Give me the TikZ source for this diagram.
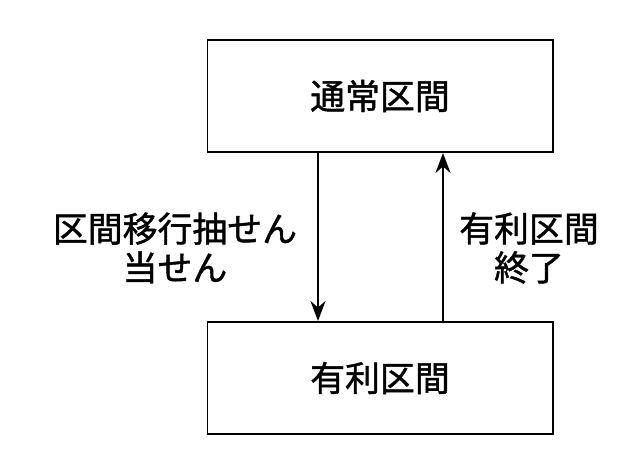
\documentclass[tikz,border=0pt]{standalone}
\usepackage{fontspec}
\newfontfamily\cjk[FakeBold=1.3]{Noto Sans CJK JP}
\usetikzlibrary{arrows.meta}
\begin{document}
\begin{tikzpicture}[x=1bp,y=-1bp,thick,
  every node/.style={font=\cjk\fontsize{35}{39}\selectfont},
  stepbox/.style={draw,line width=2pt,minimum width=345bp,minimum height=112bp},
  flow/.style={-{Stealth[length=20bp,width=15bp]},line width=2.2pt}]
  \useasboundingbox (0,0) rectangle (640,459);

  \node[stepbox] (normal) at (380,96) {通常区間};
  \node[stepbox] (adv) at (380,378) {有利区間};

  \draw[flow] (normal.south -| 318,0) -- (adv.north -| 318,0);
  \draw[flow] (adv.north -| 443,0) -- (normal.south -| 443,0);

  \node[align=center] (lotlbl) at (175,248) {区間移行抽せん\\当せん};
  \node[align=center] (endlbl) at (529,248) {有利区間\\終了};
\end{tikzpicture}
\end{document}
